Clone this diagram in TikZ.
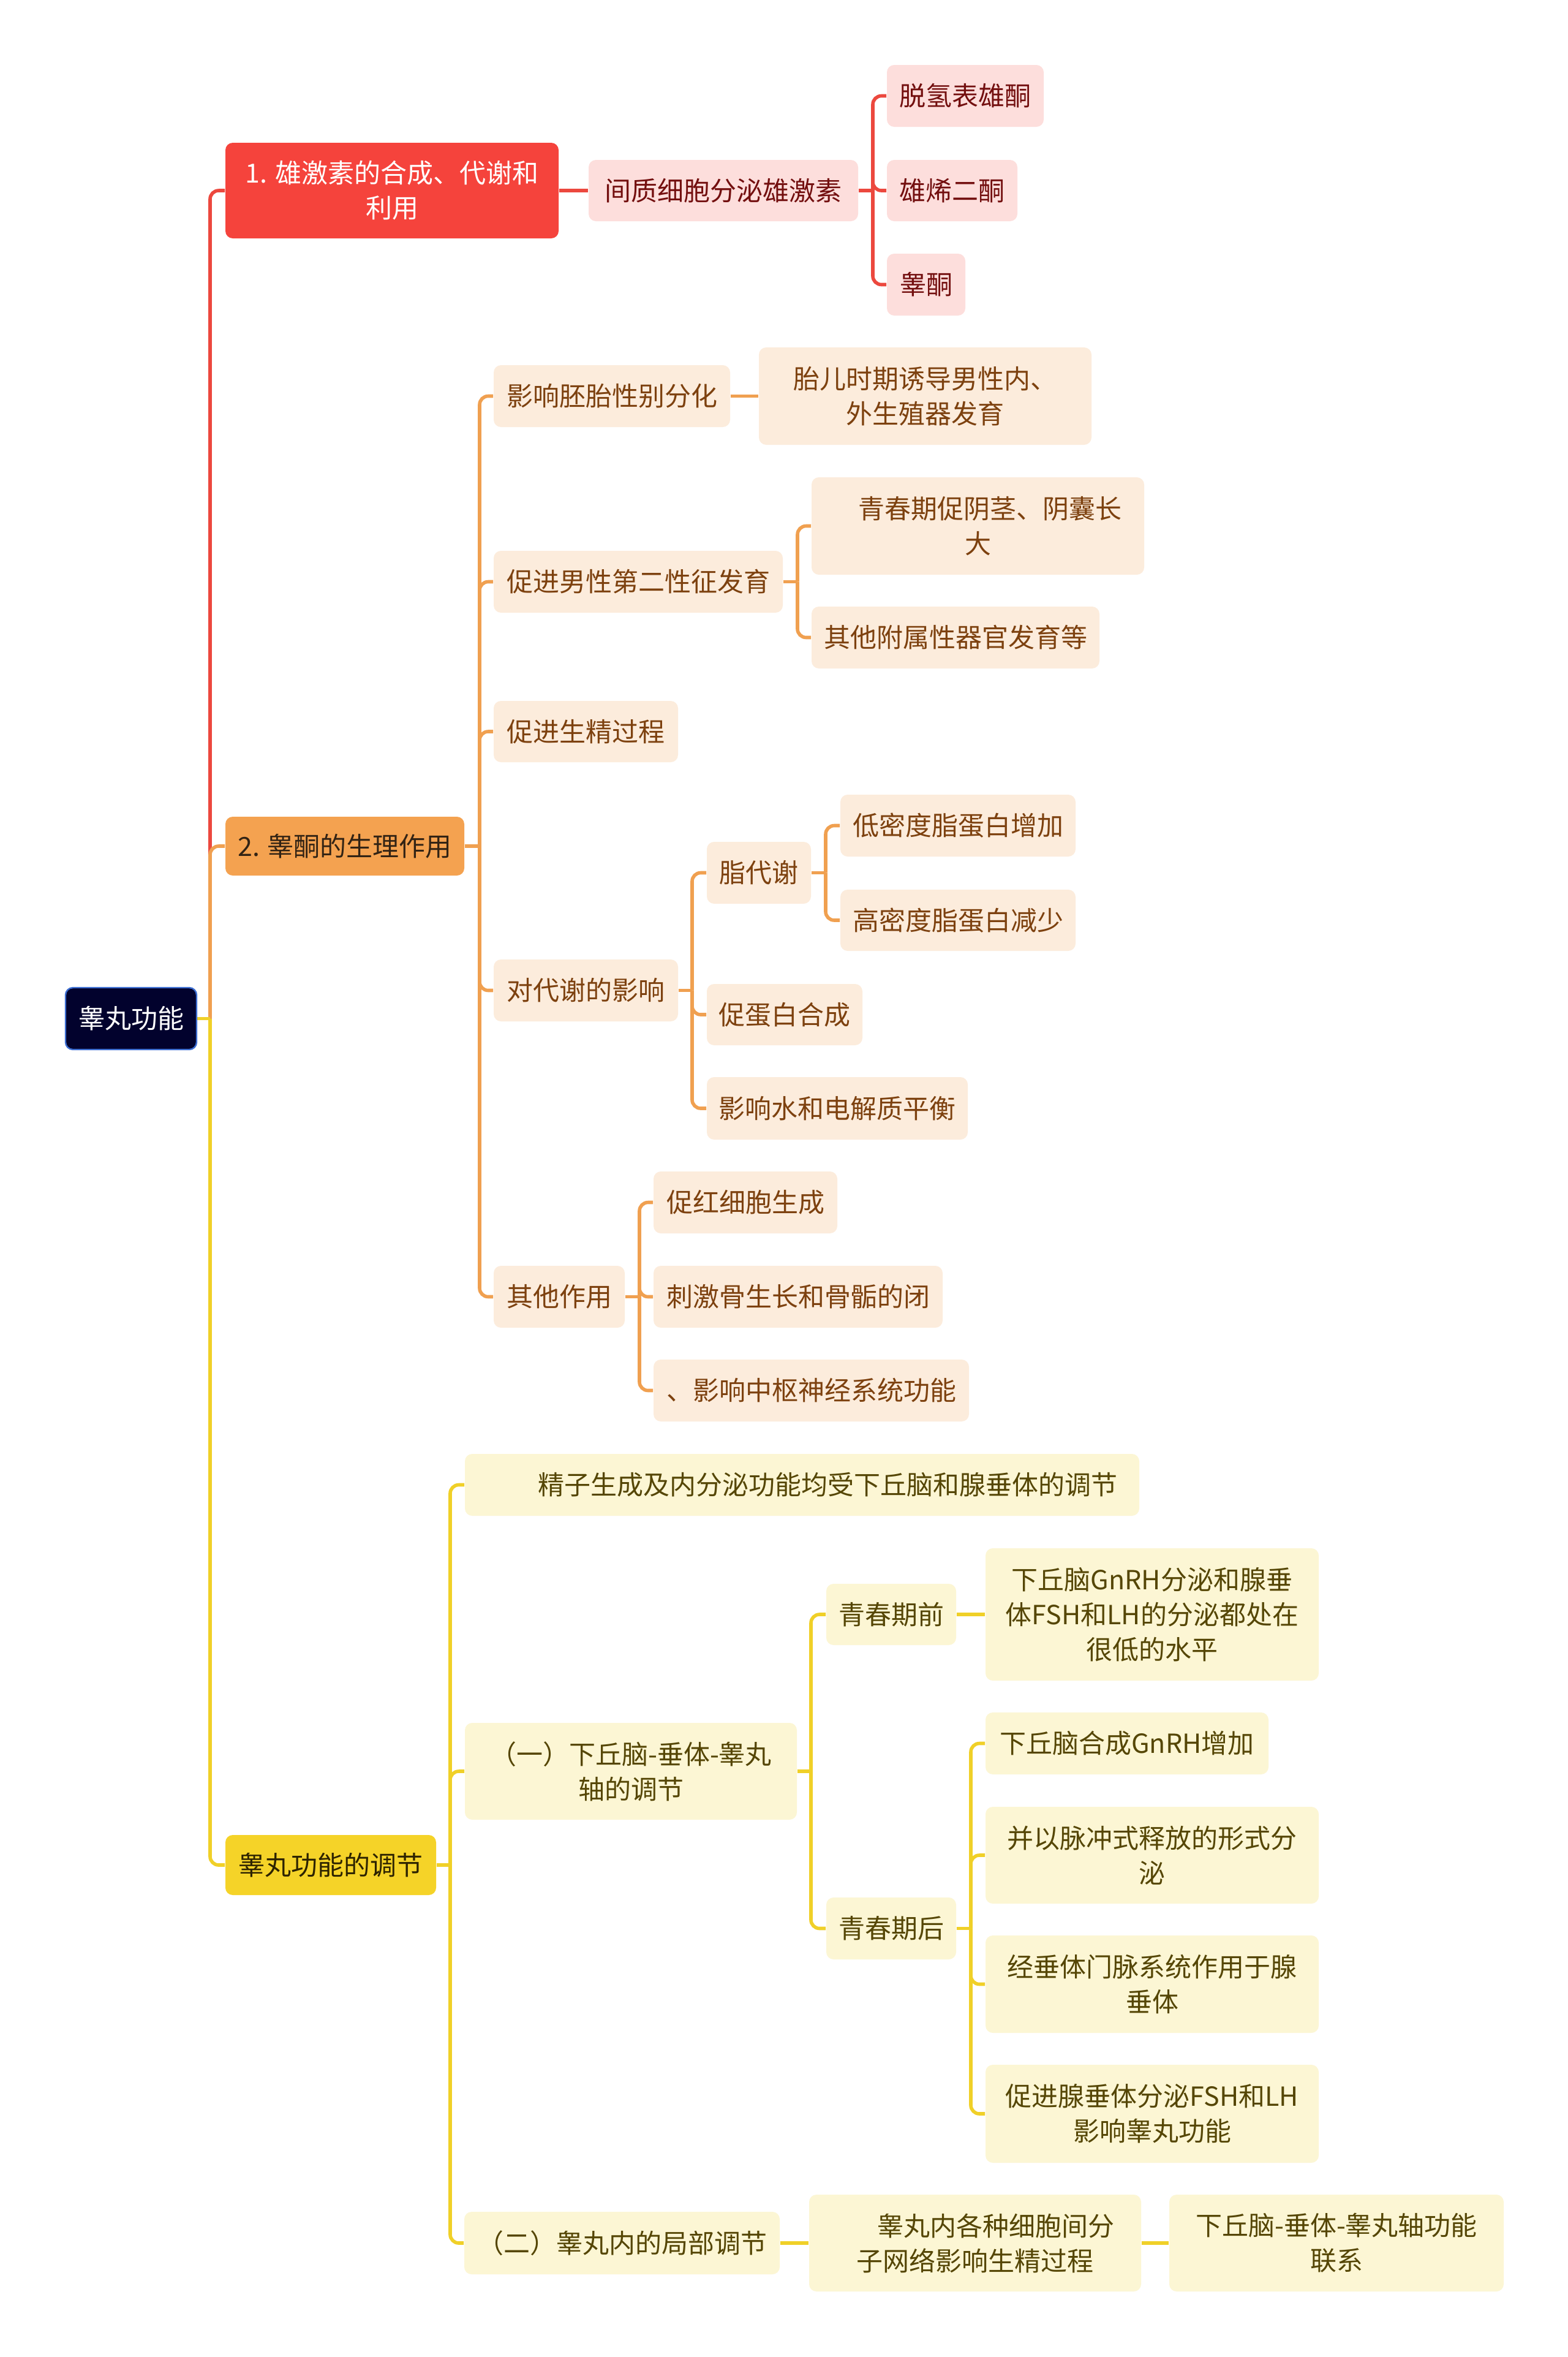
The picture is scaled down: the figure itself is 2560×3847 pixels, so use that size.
\documentclass[tikz,border=0pt]{standalone}
\usepackage{fontspec}
\setmainfont{Noto Sans CJK SC}
\pgfdeclarelayer{bg}
\pgfsetlayers{bg,main}
\definecolor{rootF}{RGB}{2,2,45}
\definecolor{rootD}{RGB}{60,110,210}
\definecolor{redF}{RGB}{245,67,60}
\definecolor{redL}{RGB}{253,222,220}
\definecolor{redT}{RGB}{115,15,15}
\definecolor{redC}{RGB}{236,72,62}
\definecolor{oraF}{RGB}{244,162,80}
\definecolor{oraL}{RGB}{252,236,220}
\definecolor{oraT}{RGB}{125,65,15}
\definecolor{oraC}{RGB}{240,160,80}
\definecolor{oraM}{RGB}{50,35,20}
\definecolor{yelF}{RGB}{245,211,40}
\definecolor{yelL}{RGB}{252,246,212}
\definecolor{yelT}{RGB}{85,70,5}
\definecolor{yelC}{RGB}{240,208,40}
\definecolor{yelM}{RGB}{45,35,0}
\tikzset{
  x=0.25pt, y=-0.25pt,
  box/.style={rounded corners=3pt, inner sep=0pt, align=center,
    font=\fontsize{10.75pt}{14.25pt}\selectfont},
  rootbox/.style={box, fill=rootF, draw=rootD, line width=0.6pt, text=white},
  redmain/.style={box, fill=redF, text=white},
  redsub/.style={box, fill=redL, text=redT},
  oramain/.style={box, fill=oraF, text=oraM},
  orasub/.style={box, fill=oraL, text=oraT},
  yelmain/.style={box, fill=yelF, text=yelM},
  yelsub/.style={box, fill=yelL, text=yelT},
  conn/.style={line width=1.4pt, rounded corners=3.5pt},
  redline/.style={conn, draw=redC},
  oraline/.style={conn, draw=oraC},
  yelline/.style={conn, draw=yelC},
}
\newcommand\bx[7]{\node[#6, minimum width={(#4-#2)*0.25pt}, minimum height={(#5-#3)*0.25pt}] (#1) at ({(#2+#4)/2},{(#3+#5)/2}) {#7};}
\begin{document}
\begin{tikzpicture}
\begin{pgfonlayer}{bg}
\fill[white] (0,0) rectangle (2560,3847);
\end{pgfonlayer}
\useasboundingbox (0,0) rectangle (2560,3847);

% root
\bx{root}{107}{1612}{321}{1713}{rootbox}{睾丸功能}

% red branch
\bx{n1}{368}{233}{912}{389}{redmain}{1. 雄激素的合成、代谢和\\利用}
\bx{n1a}{961}{261}{1401}{361}{redsub}{间质细胞分泌雄激素}
\bx{n1a1}{1448}{106}{1704}{207}{redsub}{脱氢表雄酮}
\bx{n1a2}{1448}{261}{1661}{361}{redsub}{雄烯二酮}
\bx{n1a3}{1448}{414}{1576}{515}{redsub}{睾酮}

% orange branch
\bx{n2}{368}{1333}{758}{1429}{oramain}{2. 睾酮的生理作用}
\bx{n2a}{806}{596}{1192}{697}{orasub}{影响胚胎性别分化}
\bx{n2a1}{1239}{567}{1782}{726}{orasub}{胎儿时期诱导男性内、\\外生殖器发育}
\bx{n2b}{806}{899}{1278}{1000}{orasub}{促进男性第二性征发育}
\bx{n2b1}{1325}{779}{1868}{938}{orasub}{\hspace*{10pt}青春期促阴茎、阴囊长\\大}
\bx{n2b2}{1325}{990}{1795}{1091}{orasub}{其他附属性器官发育等}
\bx{n2c}{806}{1144}{1107}{1244}{orasub}{促进生精过程}
\bx{n2d}{806}{1566}{1107}{1667}{orasub}{对代谢的影响}
\bx{n2d1}{1154}{1374}{1324}{1475}{orasub}{脂代谢}
\bx{n2d1a}{1372}{1297}{1756}{1398}{orasub}{低密度脂蛋白增加}
\bx{n2d1b}{1372}{1452}{1756}{1552}{orasub}{高密度脂蛋白减少}
\bx{n2d2}{1154}{1606}{1408}{1706}{orasub}{促蛋白合成}
\bx{n2d3}{1154}{1758}{1580}{1860}{orasub}{影响水和电解质平衡}
\bx{n2e}{806}{2066}{1020}{2167}{orasub}{其他作用}
\bx{n2e1}{1067}{1912}{1367}{2013}{orasub}{促红细胞生成}
\bx{n2e2}{1067}{2066}{1539}{2167}{orasub}{刺激骨生长和骨骺的闭}
\bx{n2e3}{1067}{2219}{1582}{2320}{orasub}{、影响中枢神经系统功能}

% yellow branch
\bx{n3}{368}{2995}{712}{3093}{yelmain}{睾丸功能的调节}
\bx{n3a}{759}{2373}{1860}{2474}{yelsub}{\hspace*{21pt}精子生成及内分泌功能均受下丘脑和腺垂体的调节}
\bx{n3b}{759}{2812}{1301}{2970}{yelsub}{（一）下丘脑-垂体-睾丸\\轴的调节}
\bx{n3b1}{1349}{2585}{1561}{2685}{yelsub}{青春期前}
\bx{n3b1a}{1609}{2527}{2153}{2743}{yelsub}{下丘脑GnRH分泌和腺垂\\体FSH和LH的分泌都处在\\很低的水平}
\bx{n3b2}{1349}{3097}{1561}{3198}{yelsub}{青春期后}
\bx{n3b2a}{1609}{2795}{2071}{2896}{yelsub}{下丘脑合成GnRH增加}
\bx{n3b2b}{1609}{2949}{2153}{3107}{yelsub}{并以脉冲式释放的形式分\\泌}
\bx{n3b2c}{1609}{3159}{2153}{3318}{yelsub}{经垂体门脉系统作用于腺\\垂体}
\bx{n3b2d}{1609}{3370}{2153}{3530}{yelsub}{促进腺垂体分泌FSH和LH\\影响睾丸功能}
\bx{n3c}{758}{3610}{1273}{3712}{yelsub}{（二）睾丸内的局部调节}
\bx{n3c1}{1321}{3582}{1863}{3740}{yelsub}{\hspace*{17pt}睾丸内各种细胞间分\\子网络影响生精过程}
\bx{n3c1a}{1909}{3582}{2455}{3740}{yelsub}{下丘脑-垂体-睾丸轴功能\\联系}

% junctions
\coordinate (jr) at (343,1662.5);
\coordinate (j1a) at (1425,311);
\coordinate (j2) at (783,1381);
\coordinate (j2b) at (1302,949.5);
\coordinate (j2d) at (1130,1616.5);
\coordinate (j2d1) at (1348,1424.5);
\coordinate (j2e) at (1044,2116.5);
\coordinate (j3) at (735,3044);
\coordinate (j3b) at (1324,2891);
\coordinate (j3b2) at (1585,3147.5);

\begin{pgfonlayer}{bg}
% trunk
\draw[redline] (jr) |- (n1.west);
\draw[oraline] (jr) |- (n2.west);
\draw[yelline] (jr) |- (n3.west);
\draw[yelline] (root.east) -- (jr);
% red
\draw[redline] (n1.east) -- (n1a.west);
\draw[redline] (n1a.east) -- (j1a);
\foreach \k in {n1a1,n1a2,n1a3} \draw[redline] (j1a) |- (\k.west);
% orange
\draw[oraline] (n2.east) -- (j2);
\foreach \k in {n2a,n2b,n2c,n2d,n2e} \draw[oraline] (j2) |- (\k.west);
\draw[oraline] (n2a.east) -- (n2a1.west);
\draw[oraline] (n2b.east) -- (j2b);
\foreach \k in {n2b1,n2b2} \draw[oraline] (j2b) |- (\k.west);
\draw[oraline] (n2d.east) -- (j2d);
\foreach \k in {n2d1,n2d2,n2d3} \draw[oraline] (j2d) |- (\k.west);
\draw[oraline] (n2d1.east) -- (j2d1);
\foreach \k in {n2d1a,n2d1b} \draw[oraline] (j2d1) |- (\k.west);
\draw[oraline] (n2e.east) -- (j2e);
\foreach \k in {n2e1,n2e2,n2e3} \draw[oraline] (j2e) |- (\k.west);
% yellow
\draw[yelline] (n3.east) -- (j3);
\foreach \k in {n3a,n3b,n3c} \draw[yelline] (j3) |- (\k.west);
\draw[yelline] (n3b.east) -- (j3b);
\foreach \k in {n3b1,n3b2} \draw[yelline] (j3b) |- (\k.west);
\draw[yelline] (n3b1.east) -- (n3b1a.west);
\draw[yelline] (n3b2.east) -- (j3b2);
\foreach \k in {n3b2a,n3b2b,n3b2c,n3b2d} \draw[yelline] (j3b2) |- (\k.west);
\draw[yelline] (n3c.east) -- (n3c1.west);
\draw[yelline] (n3c1.east) -- (n3c1a.west);
\end{pgfonlayer}
\end{tikzpicture}
\end{document}
